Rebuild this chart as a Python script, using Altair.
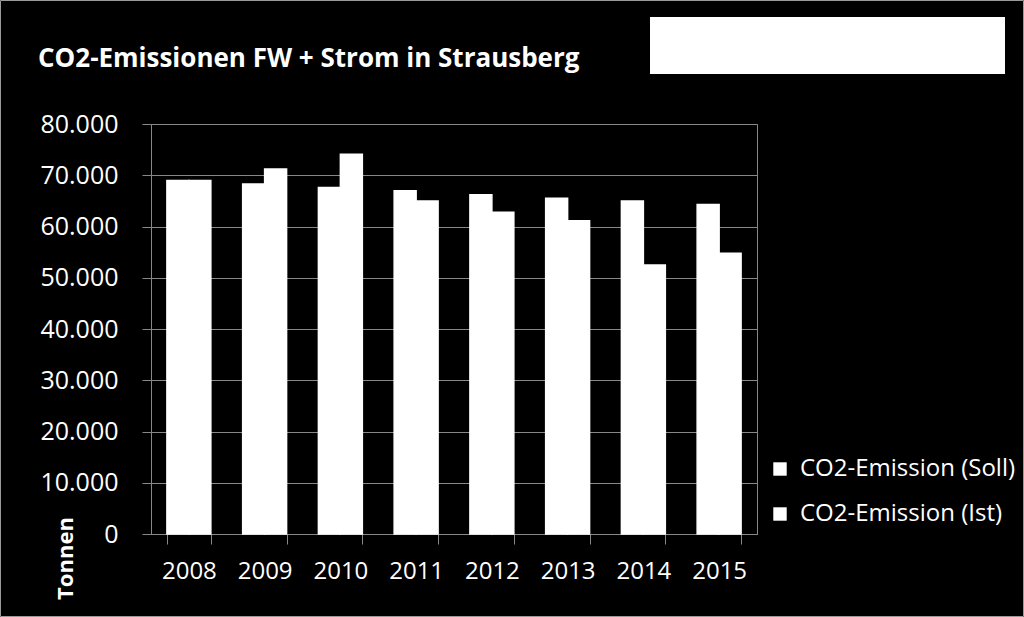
import altair as alt
import pandas as pd

years = ["2008", "2009", "2010", "2011", "2012", "2013", "2014", "2015"]
soll = [69000, 68300, 67600, 67000, 66200, 65500, 65000, 64300]
ist = [69000, 71200, 74100, 65000, 62800, 61100, 52500, 54800]
series = ["CO2-Emission (Soll)", "CO2-Emission (Ist)"]
y_ticks = [0, 10000, 20000, 30000, 40000, 50000, 60000, 70000, 80000]
title_text = "CO2-Emissionen FW + Strom in Strausberg"
y_title = "Tonnen"

rows = []
for i, y in enumerate(years):
    rows.append({"year": y, "series": series[0], "value": soll[i]})
    rows.append({"year": y, "series": series[1], "value": ist[i]})
df = pd.DataFrame(rows)

FONT = "Open Sans"
GRAY = "#888888"

bars = alt.Chart(df).mark_bar(color="white", stroke="white", strokeWidth=1.5).encode(
    x=alt.X("year:N", sort=years,
            scale=alt.Scale(paddingInner=0.42, paddingOuter=0.21),
            axis=alt.Axis(title=None, labelAngle=0, labelFontSize=24, labelColor="white",
                          labelFont=FONT, tickBand="extent", tickSize=10, tickColor=GRAY,
                          domainColor=GRAY, labelPadding=15, grid=False)),
    xOffset=alt.XOffset("series:N", sort=series,
                        scale=alt.Scale(paddingInner=0, paddingOuter=0)),
    y=alt.Y("value:Q", scale=alt.Scale(domain=[0, 80000], nice=False),
            axis=alt.Axis(values=y_ticks, title=y_title, titleAngle=270,
                          titleX=-86, titleY=434, titleAlign="center", titleBaseline="middle",
                          titleFont=FONT, titleFontSize=22, titleFontWeight="bold", titleColor="white",
                          labelExpr="replace(format(datum.value, ','), ',', '.')",
                          labelFontSize=25, labelColor="white", labelFont=FONT, labelPadding=24,
                          tickSize=9, tickColor=GRAY, domainColor=GRAY,
                          grid=True, gridColor=GRAY, gridWidth=1)),
    color=alt.Color("series:N", sort=series,
                    scale=alt.Scale(domain=series, range=["white", "white"]),
                    legend=alt.Legend(title=None, orient="none", legendX=617, legendY=333,
                                      symbolType="square", symbolSize=180, symbolFillColor="white",
                                      symbolStrokeWidth=0, labelFont=FONT, labelFontSize=24,
                                      labelColor="white", rowPadding=21, labelOffset=8,
                                      labelLimit=400)),
)

one = pd.DataFrame({"a": [0]})

title = alt.Chart(one).mark_text(
    text=title_text, font=FONT, fontSize=26, fontWeight="bold", color="white",
    align="left", baseline="alphabetic"
).encode(x=alt.value(-113), y=alt.value(-57))

white_box = alt.Chart(one).mark_rect(color="white").encode(
    x=alt.value(499), x2=alt.value(854), y=alt.value(-107), y2=alt.value(-50)
)

frame = alt.Chart(one).mark_rect(fill=None, fillOpacity=0, stroke="#9a9a9a", strokeWidth=1).encode(
    x=alt.value(-150.5), x2=alt.value(872.5), y=alt.value(-123.5), y2=alt.value(492.5)
)

chart = alt.layer(bars, title, white_box, frame).properties(
    width=606, height=410,
    autosize=alt.AutoSizeParams(type="none"),
    padding={"left": 151, "top": 124, "right": 267, "bottom": 83},
    background="black",
).configure_view(stroke=GRAY, strokeWidth=1)

chart.save("out.html", embed_options={"renderer": "svg", "actions": False})
